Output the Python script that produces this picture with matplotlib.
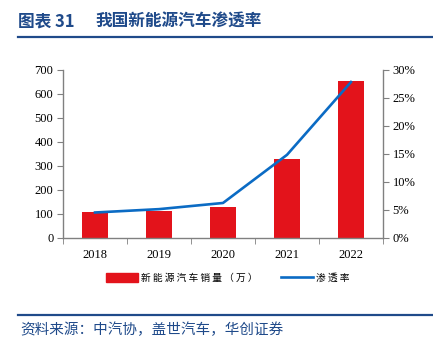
import matplotlib
matplotlib.use("Agg")
import matplotlib.pyplot as plt
from matplotlib.lines import Line2D
from matplotlib.patches import Patch

years = ["2018", "2019", "2020", "2021", "2022"]
sales = [107, 110, 126, 330, 653]          # 新能源汽车销量（万）
penetration = [4.5, 5.1, 6.2, 14.8, 27.8]  # 渗透率 (%)

bar_color = "#E3131B"
line_color = "#0B6BC4"
title_color = "#1F4A8A"
spine_color = "#808080"

plt.rcParams['font.family'] = ['Liberation Serif', 'Noto Sans CJK SC']

fig = plt.figure(figsize=(4.33, 3.51), dpi=100)
ax = fig.add_axes([63/433, 1-237.7/351, 320/433, 168/351])
x = list(range(len(years)))
ax.bar(x, sales, width=0.41, color=bar_color, zorder=2)
ax.set_xlim(-0.5, 4.5)
ax.set_ylim(0, 700)
ax.set_yticks(range(0, 701, 100))
ax.set_xticks(x)
ax.set_xticklabels(years)
ax.set_xticks([i - 0.5 for i in range(len(years) + 1)], minor=True)
ax.tick_params(axis='x', which='major', length=0, labelsize=9, pad=8)
ax.tick_params(axis='x', which='minor', length=4, direction='out', color=spine_color)
ax.tick_params(axis='y', length=4, direction='out', color=spine_color, labelsize=9, pad=3)

ax2 = ax.twinx()
ax2.plot(x, penetration, color=line_color, lw=1.9, zorder=3)
ax2.set_ylim(0, 30)
ax2.set_yticks(range(0, 31, 5))
ax2.set_yticklabels([f"{v}%" for v in range(0, 31, 5)])
ax2.tick_params(axis='y', length=4, direction='out', color=spine_color, labelsize=9, pad=3)

for a in (ax, ax2):
    a.spines['top'].set_visible(False)
    for s in ('left', 'right', 'bottom'):
        a.spines[s].set_color(spine_color)
        a.spines[s].set_linewidth(1.0)
ax.spines['right'].set_visible(False)
ax2.spines['left'].set_visible(False)
ax2.spines['bottom'].set_visible(False)

handles = [Patch(color=bar_color), Line2D([0], [0], color=line_color, lw=1.9)]
labels = ["新 能 源 汽 车 销 量 （ 万 ）", "渗 透 率"]
fig.legend(handles, labels, loc='center', bbox_to_anchor=(0.527, 1-278/351), ncol=2,
           frameon=False, prop={'family': ['Noto Sans CJK SC'], 'size': 7},
           handlelength=3.2, handleheight=0.95, columnspacing=2.4, handletextpad=0.4)

# Title and decorative lines
fig.text(18/433, 1-22/351, "图表 31", fontsize=12, fontweight='bold', color=title_color,
         va='center', ha='left', family=['Noto Sans CJK SC'])
fig.text(95/433, 1-22/351, "我国新能源汽车渗透率", fontsize=12, fontweight='bold', color=title_color,
         va='center', ha='left', family=['Noto Sans CJK SC'])
fig.add_artist(Line2D([18/433, 1.0], [1-36.5/351, 1-36.5/351], color=title_color, lw=1.6))
fig.add_artist(Line2D([18/433, 1.0], [1-314.5/351, 1-314.5/351], color=title_color, lw=1.6))
fig.text(20/433, 1-330/351, "资料来源：中汽协，盖世汽车，华创证券", fontsize=10.5, color=title_color,
         va='center', ha='left', family=['Noto Sans CJK SC'])

fig.savefig("out.png", dpi=100)
